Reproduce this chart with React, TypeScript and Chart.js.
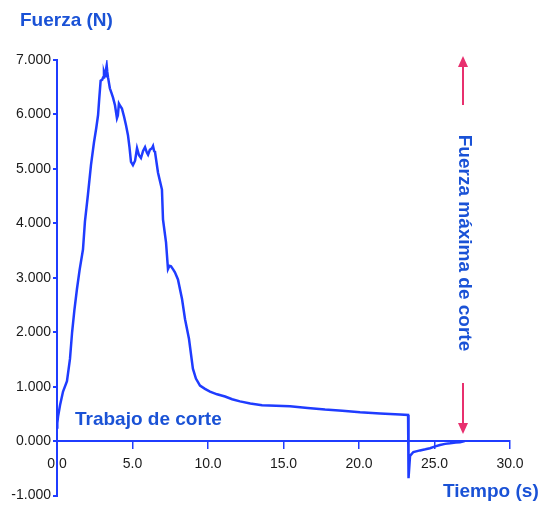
import { useEffect, useRef } from 'react';
import { Chart, registerables } from 'chart.js';

Chart.register(...registerables);

// Time (s) and force (N)
const timeSeconds = [
  0, 0.02, 0.07, 0.2, 0.4, 0.66, 0.86, 1.0, 1.15, 1.32, 1.5, 1.72, 1.85, 2.05, 2.25, 2.45,
  2.6, 2.72, 2.8, 2.89, 3.0, 3.05, 3.11, 3.18, 3.24, 3.29, 3.33, 3.38, 3.5, 3.6, 3.71, 3.84,
  3.97, 4.03, 4.1, 4.2, 4.3, 4.45, 4.57, 4.7, 4.8, 4.9, 5.03, 5.17, 5.3, 5.43, 5.56, 5.7,
  5.83, 5.95, 6.03, 6.15, 6.29, 6.36, 6.43, 6.49, 6.69, 6.95, 7.02, 7.22, 7.35, 7.45, 7.55,
  7.7, 7.81, 8.01, 8.28, 8.48, 8.74, 9.0, 9.2, 9.47, 9.8, 10.13, 10.6, 11.13, 11.6, 12.12,
  12.8, 13.58, 14.5, 15.43, 16.6, 17.75, 18.9, 20.07, 21.4, 22.72, 23.25, 23.28, 23.38,
  23.6, 24.04, 24.4, 24.7, 25.0, 25.36, 25.7, 26.03, 26.4, 26.69, 27.0,
];
const forceNewtons = [
  250, 330, 450, 660, 910, 1100, 1510, 2000, 2400, 2790, 3150, 3520, 4030, 4530, 5070, 5490,
  5750, 5990, 6300, 6620, 6640, 6680, 6770, 6700, 6820, 6900, 6780, 6680, 6480, 6400, 6310, 6170,
  5930, 5980, 6200, 6150, 6110, 5950, 5800, 5620, 5400, 5130, 5070, 5150, 5380, 5250, 5200, 5330,
  5400, 5300, 5260, 5350, 5380, 5420, 5330, 5310, 4930, 4620, 4070, 3650, 3160, 3220, 3210,
  3150, 3100, 2970, 2610, 2240, 1880, 1330, 1150, 1020, 960, 910, 860, 820, 770, 730,
  690, 660, 650, 640, 610, 580, 560, 530, 510, 490, 480, -680, -270,
  -200, -170, -150, -130, -100, -70, -50, -40, -25, -20, 0,
];

const xTickValues = [0, 5, 10, 15, 20, 25, 30];
const yTickValues = [-1000, 0, 1000, 2000, 3000, 4000, 5000, 6000, 7000];

const yTitle = 'Fuerza (N)';
const xTitle = 'Tiempo (s)';
const workLabel = 'Trabajo de corte';
const maxForceLabel = 'Fuerza máxima de corte';

const BLUE_TEXT = '#1a52d6';
const BLUE_LINE = '#1f3cff';
const PINK = '#e8306e';

const annotations = {
  id: 'annotations',
  afterDraw(chart: any) {
    const ctx = chart.ctx as CanvasRenderingContext2D;
    ctx.save();
    ctx.fillStyle = BLUE_TEXT;
    ctx.font = 'bold 19px "Liberation Sans", Arial, sans-serif';
    ctx.textBaseline = 'alphabetic';
    ctx.textAlign = 'left';
    ctx.fillText(yTitle, 20, 26);
    ctx.fillText(workLabel, 75, 425);
    ctx.fillText(xTitle, 443, 497);

    ctx.save();
    ctx.translate(464, 243);
    ctx.rotate(Math.PI / 2);
    ctx.textAlign = 'center';
    ctx.textBaseline = 'middle';
    ctx.fillText(maxForceLabel, 0, 0);
    ctx.restore();

    // arrows
    ctx.strokeStyle = PINK;
    ctx.fillStyle = PINK;
    ctx.lineWidth = 2;
    const ax = 463;
    ctx.beginPath();
    ctx.moveTo(ax, 105);
    ctx.lineTo(ax, 64);
    ctx.stroke();
    ctx.beginPath();
    ctx.moveTo(ax, 56);
    ctx.lineTo(ax - 5, 67);
    ctx.lineTo(ax + 5, 67);
    ctx.closePath();
    ctx.fill();

    ctx.beginPath();
    ctx.moveTo(ax, 383);
    ctx.lineTo(ax, 425);
    ctx.stroke();
    ctx.beginPath();
    ctx.moveTo(ax, 434);
    ctx.lineTo(ax - 5, 423);
    ctx.lineTo(ax + 5, 423);
    ctx.closePath();
    ctx.fill();
    ctx.restore();
  },
};

export default function App() {
  const canvasRef = useRef<HTMLCanvasElement | null>(null);

  useEffect(() => {
    if (!canvasRef.current) return;
    const points = timeSeconds.map((t, i) => ({ x: t, y: forceNewtons[i] }));
    const chart = new Chart(canvasRef.current, {
      type: 'line',
      data: {
        datasets: [
          {
            data: points,
            borderColor: BLUE_LINE,
            borderWidth: 2.5,
            pointRadius: 0,
            tension: 0,
            fill: false,
          },
        ],
      },
      options: {
        animation: false,
        responsive: false,
        maintainAspectRatio: false,
        events: [],
        layout: { padding: { top: 60, left: 0, right: 32, bottom: 9 } },
        plugins: {
          legend: { display: false },
          tooltip: { enabled: false },
          title: { display: false },
        },
        scales: {
          x: {
            type: 'linear',
            position: { y: 0 } as any,
            min: 0,
            max: 30,
            afterBuildTicks: (scale: any) => {
              scale.ticks = xTickValues.map((v) => ({ value: v }));
            },
            afterFit: (scale: any) => {
              scale.height = 0;
            },
            ticks: {
              color: '#1a1a1a',
              font: { family: '"Liberation Sans", Arial, sans-serif', size: 14 },
              padding: 8,
              maxRotation: 0,
              autoSkip: false,
              callback: (v: any) => Number(v).toFixed(1),
            },
            grid: {
              display: true,
              drawOnChartArea: false,
              drawTicks: true,
              tickLength: 7,
              color: BLUE_LINE,
              lineWidth: 1.5,
            },
            border: { display: true, color: BLUE_LINE, width: 2 },
          },
          y: {
            type: 'linear',
            position: 'left',
            min: -1000,
            max: 7000,
            afterBuildTicks: (scale: any) => {
              scale.ticks = yTickValues.map((v) => ({ value: v }));
            },
            afterFit: (scale: any) => {
              scale.width = 57;
            },
            ticks: {
              color: '#1a1a1a',
              font: { family: '"Liberation Sans", Arial, sans-serif', size: 14 },
              padding: 2,
              autoSkip: false,
              callback: (v: any) => (Number(v) / 1000).toFixed(3),
            },
            grid: {
              display: true,
              drawOnChartArea: false,
              drawTicks: true,
              tickLength: 4,
              color: BLUE_LINE,
              lineWidth: 2,
            },
            border: { display: true, color: BLUE_LINE, width: 2 },
          },
        },
      },
      plugins: [annotations],
    });
    return () => chart.destroy();
  }, []);

  return (
    <div style={{ position: 'absolute', left: 0, top: 0, width: 542, height: 506, background: '#fff' }}>
      <canvas ref={canvasRef} width={542} height={506} />
    </div>
  );
}
